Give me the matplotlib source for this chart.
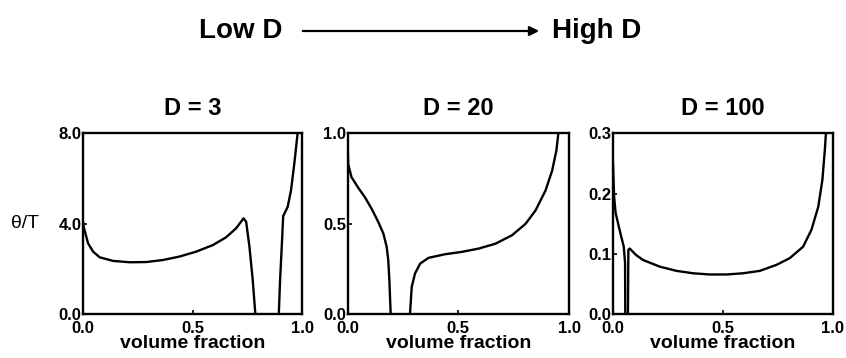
import matplotlib
matplotlib.use("Agg")
import matplotlib.pyplot as plt

plt.rcParams['font.family'] = ['Liberation Sans', 'DejaVu Sans']
plt.rcParams['font.weight'] = 'bold'

# D = 3 : two branches of theta/T vs volume fraction
d3_x1 = [0.0, 0.003, 0.023, 0.046, 0.076, 0.137, 0.213, 0.289, 0.365, 0.44, 0.517, 0.593, 0.653, 0.699, 0.733, 0.745, 0.76, 0.775, 0.787]
d3_y1 = [4.1, 3.87, 3.14, 2.77, 2.52, 2.36, 2.30, 2.31, 2.40, 2.55, 2.77, 3.06, 3.40, 3.80, 4.24, 4.09, 2.99, 1.52, 0.0]
d3_x2 = [0.894, 0.90, 0.909, 0.914, 0.935, 0.950, 0.965, 0.980]
d3_y2 = [0.0, 1.52, 3.28, 4.34, 4.76, 5.49, 6.67, 8.0]

# D = 20
d20_x1 = [0.0, 0.003, 0.018, 0.048, 0.079, 0.109, 0.139, 0.162, 0.177, 0.184, 0.189, 0.195]
d20_y1 = [0.978, 0.83, 0.758, 0.70, 0.646, 0.583, 0.51, 0.446, 0.372, 0.30, 0.19, 0.0]
d20_x2 = [0.282, 0.29, 0.305, 0.328, 0.366, 0.441, 0.517, 0.592, 0.668, 0.743, 0.804, 0.849, 0.894, 0.924, 0.943, 0.952]
d20_y2 = [0.0, 0.152, 0.226, 0.28, 0.312, 0.332, 0.345, 0.363, 0.39, 0.437, 0.50, 0.574, 0.684, 0.794, 0.905, 1.0]

# D = 100
d100_x1 = [0.0, 0.005, 0.012, 0.03, 0.049, 0.055, 0.056]
d100_y1 = [0.25, 0.195, 0.168, 0.14, 0.112, 0.085, 0.0]
d100_x2 = [0.068, 0.07, 0.076, 0.106, 0.137, 0.213, 0.289, 0.365, 0.44, 0.517, 0.593, 0.669, 0.745, 0.805, 0.866, 0.904, 0.935, 0.954, 0.965, 0.97]
d100_y2 = [0.0, 0.107, 0.109, 0.098, 0.09, 0.079, 0.072, 0.068, 0.066, 0.066, 0.068, 0.072, 0.082, 0.093, 0.112, 0.14, 0.178, 0.223, 0.272, 0.3]

titles = ["D = 3", "D = 20", "D = 100"]
ylims = [8.0, 1.0, 0.3]
yticks = [[0.0, 4.0, 8.0], [0.0, 0.5, 1.0], [0.0, 0.1, 0.2, 0.3]]
ytick_labels = [["0.0", "4.0", "8.0"], ["0.0", "0.5", "1.0"], ["0.0", "0.1", "0.2", "0.3"]]
xticks = [0.0, 0.5, 1.0]
xtick_labels = ["0.0", "0.5", "1.0"]
curves = [
    [(d3_x1, d3_y1), (d3_x2, d3_y2)],
    [(d20_x1, d20_y1), (d20_x2, d20_y2)],
    [(d100_x1, d100_y1), (d100_x2, d100_y2)],
]

fig = plt.figure(figsize=(8.46, 3.58), dpi=100)
lefts = [83 / 846, 347.5 / 846, 613 / 846]
widths = [219 / 846, 221.5 / 846, 219.5 / 846]
bottom = 43.7 / 358
height = 181 / 358

for i in range(3):
    ax = fig.add_axes([lefts[i], bottom, widths[i], height])
    for xs, ys in curves[i]:
        ax.plot(xs, ys, color='black', lw=1.7, solid_joinstyle='round')
    ax.set_xlim(0, 1)
    ax.set_ylim(0, ylims[i])
    ax.set_xticks(xticks)
    ax.set_xticklabels(xtick_labels)
    ax.set_yticks(yticks[i])
    ax.set_yticklabels(ytick_labels[i])
    ax.tick_params(direction='in', length=3, width=1.2, labelsize=12)
    ax.tick_params(axis='x', pad=5)
    ax.tick_params(axis='y', pad=1)
    for s in ax.spines.values():
        s.set_linewidth(1.7)
    ax.set_xlabel("volume fraction", fontsize=14, fontweight='bold', labelpad=-1)
    ax.set_title(titles[i], fontsize=17, fontweight='bold', pad=13)
    if i == 0:
        ax.set_ylabel("θ/T", fontsize=14, fontweight='normal', rotation=0, va='center')
        ax.yaxis.set_label_coords(-0.265, 0.5)

# header with arrow
fig.text(241 / 846, 1 - 31 / 358, "Low D", fontsize=20, fontweight='bold', ha='center', va='center')
fig.text(597 / 846, 1 - 31 / 358, "High D", fontsize=20, fontweight='bold', ha='center', va='center')
fig.add_artist(matplotlib.patches.FancyArrowPatch(
    (300 / 846, 1 - 31 / 358), (542 / 846, 1 - 31 / 358), transform=fig.transFigure,
    arrowstyle='-|>', mutation_scale=14, color='black', lw=1.6))

fig.savefig("out.png", dpi=100)
